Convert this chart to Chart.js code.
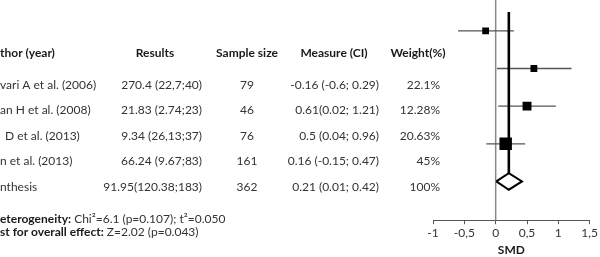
<!DOCTYPE html>
<html>
<head>
<meta charset="utf-8">
<script src="https://cdn.jsdelivr.net/npm/chart.js@4.4.1/dist/chart.umd.min.js"></script>
<style>
  html, body { margin: 0; padding: 0; background: #fff; }
  #wrap { width: 600px; height: 257px; }
</style>
</head>
<body>
<div id="wrap"><canvas id="forest" width="600" height="257"></canvas></div>
<script>
// ---- data ----
const authors     = ['vari A et al. (2006)', 'an H et al. (2008)', 'D et al. (2013)', 'n et al. (2013)', 'nthesis'];
const results     = ['270.4 (22,7;40)', '21.83 (2.74;23)', '9.34 (26,13;37)', '66.24 (9.67;83)', '91.95(120.38;183)'];
const sampleSizes = ['79', '46', '76', '161', '362'];
const measures    = ['-0.16 (-0.6; 0.29)', '0.61(0.02; 1.21)', '0.5 (0.04; 0.96)', '0.16 (-0.15; 0.47)', '0.21 (0.01; 0.42)'];
const weights     = ['22.1%', '12.28%', '20.63%', '45%', '100%'];

// plotted estimates (studies), and the pooled one
const estimates = [-0.16, 0.61, 0.5, 0.16];
const lowerCI   = [-0.6, 0.02, 0.04, -0.15];
const upperCI   = [0.29, 1.21, 0.96, 0.47];
const pooled    = { est: 0.21, lo: 0.01, hi: 0.42 };
const xTicks    = [-1, -0.5, 0, 0.5, 1, 1.5];

const FONT = 'Lato, "Open Sans", sans-serif';
const TEXT = '#333';
const DARK = '#1a1a1a';

// rows on the plot: 1..4 studies, 5 = pooled
const rows = estimates.map((_, i) => i + 1);
const pooledRow = rows.length + 1;
const diamondHalf = 0.22;   // half-height of the diamond in row units
const markerRadius = [4.8, 4.8, 6.3, 8.8];

const ciSets = estimates.map((_, i) => ({
    type: 'line',
    data: [{ x: lowerCI[i], y: rows[i] }, { x: upperCI[i], y: rows[i] }],
    borderColor: '#555',
    borderWidth: 1.3,
    pointRadius: 0,
    order: 3,
}));

// ============================================
// table text on the left
// ============================================
const tablePlugin = {
    id: 'tableText',
    afterDraw(chart) {
        const ctx = chart.ctx;
        ctx.save();
        ctx.textBaseline = 'middle';

        // header
        ctx.font = `bold 12px ${FONT}`;
        ctx.fillStyle = DARK;
        ctx.textAlign = 'left';
        ctx.fillText('thor (year)', 0, 53);
        ctx.textAlign = 'center';
        ctx.fillText('Results', 155, 53);
        ctx.fillText('Sample size', 247, 53);
        ctx.fillText('Measure (CI)', 334, 53);
        ctx.fillText('Weight(%)', 418, 53);

        // rows
        ctx.font = `12px ${FONT}`;
        ctx.fillStyle = TEXT;
        authors.forEach((a, i) => {
            const y = 85 + i * 25.5;
            ctx.textAlign = 'left';
            ctx.fillText(a, i === 2 ? 5 : 0, y);
            ctx.textAlign = 'right';
            ctx.fillText(results[i], 202, y);
            ctx.textAlign = 'center';
            ctx.fillText(sampleSizes[i], 247, y);
            ctx.textAlign = 'right';
            ctx.fillText(measures[i], 379, y);
            ctx.fillText(weights[i], 440, y);
        });

        // footer
        const foot = [
            ['eterogeneity:', ' Chi\u00b2=6.1 (p=0.107); t\u00b2=0.050', 219],
            ['st for overall effect:', ' Z=2.02 (p=0.043)', 232],
        ];
        ctx.textAlign = 'left';
        foot.forEach(([b, r, y]) => {
            ctx.font = `bold 12px ${FONT}`;
            ctx.fillStyle = DARK;
            ctx.fillText(b, 0, y);
            const w = ctx.measureText(b).width;
            ctx.font = `12px ${FONT}`;
            ctx.fillStyle = TEXT;
            ctx.fillText(r, w, y);
        });
        ctx.restore();
    },
};

new Chart(document.getElementById('forest'), {
    type: 'scatter',
    data: {
        datasets: [
            {
                // study markers
                type: 'scatter',
                data: estimates.map((e, i) => ({ x: e, y: rows[i] })),
                pointStyle: 'rect',
                pointRadius: markerRadius,
                backgroundColor: '#000',
                borderColor: '#000',
                borderWidth: 0,
                order: 1,
            },
            {
                // pooled diamond
                type: 'line',
                data: [
                    { x: pooled.lo, y: pooledRow },
                    { x: pooled.est, y: pooledRow - diamondHalf },
                    { x: pooled.hi, y: pooledRow },
                    { x: pooled.est, y: pooledRow + diamondHalf },
                    { x: pooled.lo, y: pooledRow },
                ],
                borderColor: '#000',
                borderWidth: 2,
                pointRadius: 0,
                tension: 0,
                borderJoinStyle: 'miter',
                order: 2,
            },
            {
                // pooled estimate line
                type: 'line',
                data: [{ x: pooled.est, y: 0.5 }, { x: pooled.est, y: pooledRow - diamondHalf }],
                borderColor: '#000',
                borderWidth: 2.6,
                pointRadius: 0,
                order: 2,
            },
            {
                // line of no effect
                type: 'line',
                data: [{ x: 0, y: 0 }, { x: 0, y: 7 }],
                borderColor: '#888',
                borderWidth: 1.5,
                pointRadius: 0,
                order: 4,
            },
            ...ciSets,
        ],
    },
    options: {
        responsive: false,
        animation: false,
        devicePixelRatio: 1,
        layout: {
            autoPadding: false,
            padding: { left: 433, right: 4, top: 0, bottom: 0 },
        },
        plugins: {
            legend: { display: false },
            tooltip: { enabled: false },
        },
        scales: {
            x: {
                type: 'linear',
                min: xTicks[0],
                max: xTicks[xTicks.length - 1],
                afterBuildTicks: (axis) => { axis.ticks = xTicks.map(v => ({ value: v })); },
                ticks: {
                    callback: (v) => String(v).replace('.', ','),
                    font: { family: FONT, size: 12 },
                    color: TEXT,
                    padding: 2,
                    maxRotation: 0,
                },
                grid: { drawOnChartArea: false, tickLength: 4, color: '#555' },
                border: { display: true, color: '#555', width: 1 },
                title: {
                    display: true,
                    text: 'SMD',
                    font: { family: FONT, size: 12, weight: 'bold' },
                    color: DARK,
                    padding: 0,
                },
            },
            y: {
                display: false,
                reverse: true,
                min: 0.18,
                max: 6.03,
            },
        },
    },
    plugins: [tablePlugin],
});
</script>
</body>
</html>
